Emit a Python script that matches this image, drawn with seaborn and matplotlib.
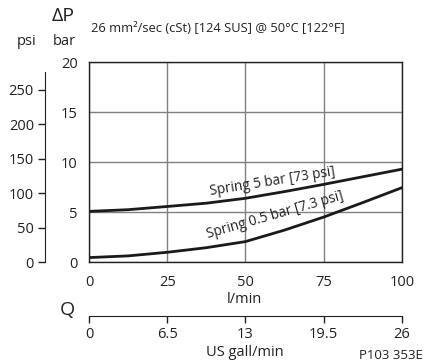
import pandas as pd
import matplotlib.pyplot as plt
import seaborn as sns

# valores
vazao_lpm = [0, 12.5, 25, 37.5, 50, 62.5, 75, 87.5, 100]
mola_5bar = [5.07, 5.24, 5.56, 5.89, 6.38, 7.05, 7.77, 8.53, 9.29]
mola_05bar = [0.45, 0.62, 0.98, 1.44, 2.05, 3.2, 4.5, 5.95, 7.44]

ticks_lpm = [0, 25, 50, 75, 100]
ticks_bar = [0, 5, 10, 15, 20]
ticks_psi = [0, 50, 100, 150, 200, 250]
ticks_gal = [0, 6.5, 13, 19.5, 26]
rotulos_gal = ['0', '6.5', '13', '19.5', '26']

sns.set_style("white")
plt.rcParams['font.family'] = ['Open Sans', 'DejaVu Sans']
plt.rcParams['font.size'] = 10

dados = pd.DataFrame({
    'Q': vazao_lpm * 2,
    'dP': mola_5bar + mola_05bar,
    'curva': ['5bar'] * len(vazao_lpm) + ['05bar'] * len(vazao_lpm),
})

fig = plt.figure(figsize=(4.28, 3.63), dpi=100)
ax = fig.add_axes([0.208, 0.278, 0.731, 0.551])

sns.lineplot(data=dados, x='Q', y='dP', units='curva', estimator=None,
             color='#1a1a1a', linewidth=2.0, ax=ax)
for linha in ax.get_lines():
    linha.set_solid_joinstyle('round')

ax.set_xlim(0, 100)
ax.set_ylim(0, 20)
ax.set_xticks(ticks_lpm)
ax.set_yticks(ticks_bar)
ax.grid(True, color='#808080', linewidth=1.0)
for s in ax.spines.values():
    s.set_color('#222222')
    s.set_linewidth(1.0)
ax.tick_params(axis='both', length=0, labelsize=10.5, colors='#222222')
ax.tick_params(axis='x', pad=9)
ax.tick_params(axis='y', pad=8)
ax.set_xlabel('')
ax.set_ylabel('')

ax.text(58.5, 8.05, 'Spring 5 bar [73 psi]', rotation=9, ha='center', va='center',
        fontsize=9.8, color='#222222')
ax.text(59.5, 4.65, 'Spring 0.5 bar [7.3 psi]', rotation=16, ha='center', va='center',
        fontsize=9.8, color='#222222')

# eixo psi à esquerda
ax_psi = ax.twinx()
ax_psi.set_ylim(0, 20 * 14.5)
ax_psi.set_yticks(ticks_psi)
ax_psi.yaxis.set_ticks_position('left')
ax_psi.yaxis.set_label_position('left')
for nome in ['top', 'right', 'bottom']:
    ax_psi.spines[nome].set_visible(False)
ax_psi.spines['left'].set_position(('outward', 31.7))
ax_psi.spines['left'].set_bounds(0, 276)
ax_psi.spines['left'].set_color('#222222')
ax_psi.tick_params(axis='y', length=5, width=1, colors='#222222', labelsize=10.5, pad=3)

# eixo US gall/min embaixo
ax_gal = ax.twiny()
ax_gal.set_xlim(0, 26)
ax_gal.set_xticks(ticks_gal)
ax_gal.set_xticklabels(rotulos_gal)
ax_gal.xaxis.set_ticks_position('bottom')
ax_gal.xaxis.set_label_position('bottom')
for nome in ['top', 'right', 'left']:
    ax_gal.spines[nome].set_visible(False)
ax_gal.spines['bottom'].set_position(('outward', 39))
ax_gal.spines['bottom'].set_color('#222222')
ax_gal.tick_params(axis='x', direction='out', length=5, width=1, colors='#222222',
                   labelsize=10.5, pad=3)

fig.text(0.572, 0.174, 'l/min', ha='center', va='center', fontsize=10.5, color='#222222')
fig.text(0.572, 0.030, 'US gall/min', ha='center', va='center', fontsize=10.5, color='#222222')
fig.text(0.158, 0.146, 'Q', ha='center', va='center', fontsize=14, color='#222222')
fig.text(0.988, 0.022, 'P103 353E', ha='right', va='center', fontsize=9.5, color='#222222')
fig.text(0.147, 0.955, 'ΔP', ha='center', va='center', fontsize=14, color='#222222')
fig.text(0.062, 0.887, 'psi', ha='center', va='center', fontsize=10.5, color='#222222')
fig.text(0.150, 0.887, 'bar', ha='center', va='center', fontsize=10.5, color='#222222')
fig.text(0.213, 0.922, '26 mm²/sec (cSt) [124 SUS] @ 50°C [122°F]', ha='left', va='center',
         fontsize=9.3, color='#222222')

fig.savefig('out.png', dpi=100, facecolor='white')
